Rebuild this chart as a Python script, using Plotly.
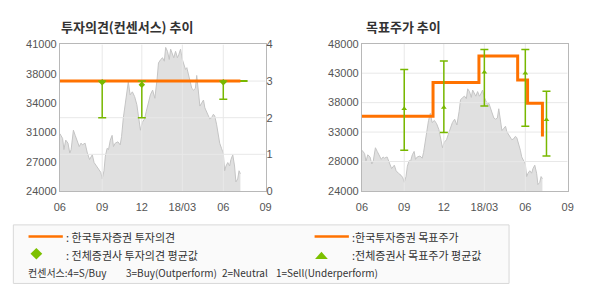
import plotly.graph_objects as go

W, H = 590, 300

# ---------------- data ----------------
price_dates = [
    "2017-06-01", "2017-06-07", "2017-06-10", "2017-06-14", "2017-06-19", "2017-06-23", "2017-06-26",
    "2017-07-01", "2017-07-05", "2017-07-10", "2017-07-14", "2017-07-18", "2017-07-21", "2017-07-27",
    "2017-08-01", "2017-08-06", "2017-08-12", "2017-08-16", "2017-08-21", "2017-08-27", "2017-08-31",
    "2017-09-03", "2017-09-07", "2017-09-10", "2017-09-14", "2017-09-17", "2017-09-21", "2017-09-25",
    "2017-09-28", "2017-10-02", "2017-10-08", "2017-10-13", "2017-10-16", "2017-10-20", "2017-10-24",
    "2017-10-27", "2017-10-31", "2017-11-04", "2017-11-09", "2017-11-14", "2017-11-19", "2017-11-23",
    "2017-11-27", "2017-12-01", "2017-12-06", "2017-12-10", "2017-12-15", "2017-12-19", "2017-12-24",
    "2017-12-29", "2018-01-03", "2018-01-06", "2018-01-11", "2018-01-15", "2018-01-19", "2018-01-22",
    "2018-01-26", "2018-01-30", "2018-02-02", "2018-02-06", "2018-02-09", "2018-02-13", "2018-02-17",
    "2018-02-20", "2018-02-24", "2018-02-28", "2018-03-03", "2018-03-07", "2018-03-10", "2018-03-14",
    "2018-03-18", "2018-03-21", "2018-03-25", "2018-03-29", "2018-04-01", "2018-04-05", "2018-04-08",
    "2018-04-12", "2018-04-16", "2018-04-19", "2018-04-23", "2018-04-27", "2018-04-30", "2018-05-04",
    "2018-05-08", "2018-05-11", "2018-05-15", "2018-05-19", "2018-05-22", "2018-05-26", "2018-05-30",
    "2018-06-02", "2018-06-05", "2018-06-09", "2018-06-13", "2018-06-16", "2018-06-20", "2018-06-24",
    "2018-06-27", "2018-07-01", "2018-07-04", "2018-07-07",
]
price_vals = [
    30650, 30100, 28800, 29900, 29550, 28400, 28800,
    31050, 30450, 29700, 29150, 29550, 29350, 29550,
    28400, 27650, 28200, 27300, 26900, 26550, 26150,
    25400, 26350, 28050, 28950, 28800, 29900, 30450,
    29150, 29550, 29700, 29350, 30300, 32500, 34000,
    35500, 36650, 35150, 35500, 34950, 34000, 32500,
    31050, 31950, 32350, 33250, 34200, 35150, 35700,
    34750, 37000, 38850, 39250, 39450, 39050, 40650,
    40200, 39250, 40450, 39800, 39450, 40200, 39450,
    39800, 40450, 39250, 38850, 38100, 38300, 37400,
    36650, 35900, 35700, 35900, 37400, 35500, 33850,
    34200, 34550, 33650, 33250, 32700, 32350, 32500,
    32900, 32700, 31750, 30650, 29550, 28950, 28400,
    26350, 26900, 27300, 26900, 27650, 28200, 26900,
    25050, 25400, 26350, 26000,
]

x_range = ["2017-06-01", "2018-09-01"]
tick_dates = ["2017-06-01", "2017-09-03", "2017-11-30", "2018-02-28", "2018-05-30", "2018-09-01"]
tick_text = ["06", "09", "12", "18/03", "06", "09"]

# investment opinion (left)
rating_line_dates = ["2017-06-01", "2018-07-07"]
rating_line_vals = [3, 3]
cons_line_dates = ["2017-06-01", "2018-07-23"]
cons_line_vals = [3, 3]
rating_bar_dates = ["2017-09-03", "2017-11-30", "2018-05-30"]
rating_mean = [2.97, 2.9, 2.97]
rating_max = [3, 3, 3]
rating_min = [2, 2, 2.5]

# target price (right)
target_dates = ["2017-06-01", "2017-11-06", "2018-02-16", "2018-05-13", "2018-06-04", "2018-07-07"]
target_vals = [36200, 41700, 46000, 42100, 38300, 32900]
tp_bar_dates = ["2017-09-03", "2017-11-30", "2018-02-28", "2018-05-30", "2018-07-16"]
tp_mean = [37400, 37600, 43350, 43200, 35600]
tp_max = [43800, 45200, 47050, 47050, 40250]
tp_min = [30650, 33550, 37850, 34550, 29700]

left_price_range = [24000, 41000]
left_price_ticks = [24000, 27400, 30800, 34200, 37600, 41000]
left_price_text = ["24000", "27000", "31000", "34000", "38000", "41000"]
rating_range = [0, 4]
rating_ticks = [0, 1, 2, 3, 4]
right_price_range = [24000, 48000]
right_price_ticks = [24000, 28800, 33600, 38400, 43200, 48000]
right_price_text = ["24000", "28000", "33000", "38000", "43000", "48000"]

# ---------------- style ----------------
ORANGE = "#ff7200"
GREEN = "#78b800"
AREA = "#e0e0e0"
AREA_LINE = "#c4c4c4"
GRID = "#e8e8e8"
AXIS = "#b8b8b8"
TICKFONT = dict(family="Liberation Sans, Arial, sans-serif", size=11, color="#555555")
KFONT = "Noto Sans CJK KR, sans-serif"


def px(x):
    return x / W


def py(y):
    return 1 - y / H


def grid_v(ticks, yr):
    xs, ys = [], []
    for t in ticks[1:-1]:
        xs += [t, t, None]
        ys += [yr[0], yr[1], None]
    return xs, ys


def grid_h(ticks, xr):
    xs, ys = [], []
    for t in ticks[1:-1]:
        xs += [xr[0], xr[1], None]
        ys += [t, t, None]
    return xs, ys


fig = go.Figure()

# ---- left chart ----
fig.add_trace(go.Scatter(x=price_dates, y=price_vals, mode="lines", fill="tozeroy",
                         fillcolor=AREA, line=dict(color=AREA_LINE, width=1),
                         xaxis="x", yaxis="y", hoverinfo="skip"))
gx, gy = grid_v(tick_dates, left_price_range)
fig.add_trace(go.Scatter(x=gx, y=gy, mode="lines", line=dict(color=GRID, width=1),
                         xaxis="x", yaxis="y", hoverinfo="skip"))
hx, hy = grid_h(rating_ticks, x_range)
fig.add_trace(go.Scatter(x=hx, y=hy, mode="lines", line=dict(color=GRID, width=1),
                         xaxis="x", yaxis="y2", hoverinfo="skip"))
fig.add_trace(go.Scatter(x=cons_line_dates, y=cons_line_vals, mode="lines",
                         line=dict(color=GREEN, width=2), xaxis="x", yaxis="y2", hoverinfo="skip"))
fig.add_trace(go.Scatter(x=rating_line_dates, y=rating_line_vals, mode="lines",
                         line=dict(color=ORANGE, width=3), xaxis="x", yaxis="y2", hoverinfo="skip"))
fig.add_trace(go.Scatter(
    x=rating_bar_dates, y=rating_mean, mode="markers",
    marker=dict(symbol="diamond", size=5, color=GREEN),
    error_y=dict(type="data", symmetric=False,
                 array=[a - m for a, m in zip(rating_max, rating_mean)],
                 arrayminus=[m - b for m, b in zip(rating_mean, rating_min)],
                 color=GREEN, thickness=1.5, width=4),
    xaxis="x", yaxis="y2", hoverinfo="skip"))

# ---- right chart ----
fig.add_trace(go.Scatter(x=price_dates, y=price_vals, mode="lines", fill="tozeroy",
                         fillcolor=AREA, line=dict(color=AREA_LINE, width=1),
                         xaxis="x2", yaxis="y3", hoverinfo="skip"))
gx, gy = grid_v(tick_dates, right_price_range)
fig.add_trace(go.Scatter(x=gx, y=gy, mode="lines", line=dict(color=GRID, width=1),
                         xaxis="x2", yaxis="y3", hoverinfo="skip"))
hx, hy = grid_h(right_price_ticks, x_range)
fig.add_trace(go.Scatter(x=hx, y=hy, mode="lines", line=dict(color=GRID, width=1),
                         xaxis="x2", yaxis="y3", hoverinfo="skip"))
fig.add_trace(go.Scatter(x=target_dates, y=target_vals, mode="lines",
                         line=dict(color=ORANGE, width=3, shape="hv"),
                         xaxis="x2", yaxis="y3", hoverinfo="skip"))
fig.add_trace(go.Scatter(
    x=tp_bar_dates, y=tp_mean, mode="markers",
    marker=dict(symbol="triangle-up", size=5, color=GREEN),
    error_y=dict(type="data", symmetric=False,
                 array=[a - m for a, m in zip(tp_max, tp_mean)],
                 arrayminus=[m - b for m, b in zip(tp_mean, tp_min)],
                 color=GREEN, thickness=1.5, width=4),
    xaxis="x2", yaxis="y3", hoverinfo="skip"))

xcommon = dict(type="date", range=x_range, tickmode="array", tickvals=tick_dates,
               ticktext=tick_text, showgrid=False, zeroline=False, showline=True,
               linecolor=AXIS, linewidth=1, mirror=True, ticks="", tickfont=TICKFONT,
               ticklabelstandoff=6)

fig.update_layout(
    width=W, height=H, margin=dict(l=0, r=0, t=0, b=0),
    paper_bgcolor="white", plot_bgcolor="white", showlegend=False,
    xaxis=dict(domain=[px(55), px(265)], anchor="y", **xcommon),
    yaxis=dict(domain=[py(192.7), py(40)], range=left_price_range, tickmode="array",
               tickvals=left_price_ticks, ticktext=left_price_text, showgrid=False,
               zeroline=False, showline=True, linecolor=AXIS, mirror=True, ticks="",
               tickfont=TICKFONT),
    yaxis2=dict(overlaying="y", side="right", anchor="x", range=rating_range,
                tickmode="array", tickvals=rating_ticks, showgrid=False, zeroline=False,
                showline=False, ticks="", tickfont=TICKFONT),
    xaxis2=dict(domain=[px(363.3), px(573.3)], anchor="y3", **xcommon),
    yaxis3=dict(domain=[py(192.7), py(39.3)], anchor="x2", range=right_price_range,
                tickmode="array", tickvals=right_price_ticks, ticktext=right_price_text,
                showgrid=False, zeroline=False, showline=True, linecolor=AXIS, mirror=True,
                ticks="", tickfont=TICKFONT),
)

ann = []
ann.append(dict(text="<b>투자의견(컨센서스) 추이</b>", x=px(54), y=py(21), xref="paper", yref="paper",
                xanchor="left", yanchor="middle", showarrow=False,
                font=dict(family=KFONT, size=13, color="#333333")))
ann.append(dict(text="<b>목표주가 추이</b>", x=px(365.5), y=py(21), xref="paper", yref="paper",
                xanchor="left", yanchor="middle", showarrow=False,
                font=dict(family=KFONT, size=13, color="#333333")))

legend_font = dict(family=KFONT, size=11, color="#333333")
note_font = dict(family=KFONT, size=10, color="#333333")
legend_items = [
    (": 한국투자증권 투자의견", 59, 240.5),
    (": 전체증권사 투자의견 평균값", 59, 259),
    (":한국투자증권 목표주가", 351.5, 240.5),
    (":전체증권사 목표주가 평균값", 351.5, 259),
]
for t, x, y in legend_items:
    ann.append(dict(text=t, x=px(x), y=py(y), xref="paper", yref="paper", xanchor="left",
                    yanchor="middle", showarrow=False, font=legend_font))
note_items = [
    ("컨센서스:4=S/Buy", 20),
    ("3=Buy(Outperform)", 120),
    ("2=Neutral", 218),
    ("1=Sell(Underperform)", 274),
]
for t, x in note_items:
    ann.append(dict(text=t, x=px(x), y=py(277.5), xref="paper", yref="paper", xanchor="left",
                    yanchor="middle", showarrow=False, font=note_font))

shapes = [
    dict(type="rect", xref="paper", yref="paper", x0=px(7.5), x1=px(513.5), y0=py(289), y1=py(228),
         line=dict(color="#d8d8d8", width=1), fillcolor="#fafafa", layer="below"),
    dict(type="line", xref="paper", yref="paper", x0=px(23), x1=px(58), y0=py(240), y1=py(240),
         line=dict(color=ORANGE, width=2.5)),
    dict(type="line", xref="paper", yref="paper", x0=px(315), x1=px(350), y0=py(240), y1=py(240),
         line=dict(color=ORANGE, width=2.5)),
    dict(type="path", xref="paper", yref="paper",
         path=f"M {px(31)},{py(252)} L {px(37)},{py(258)} L {px(31)},{py(264)} L {px(25)},{py(258)} Z",
         fillcolor="#7cc000", line=dict(width=0)),
    dict(type="path", xref="paper", yref="paper",
         path=f"M {px(322)},{py(256)} L {px(328.5)},{py(263.5)} L {px(315.5)},{py(263.5)} Z",
         fillcolor="#7cc000", line=dict(width=0)),
]

fig.update_layout(annotations=ann, shapes=shapes)
fig.write_html("out.html")
